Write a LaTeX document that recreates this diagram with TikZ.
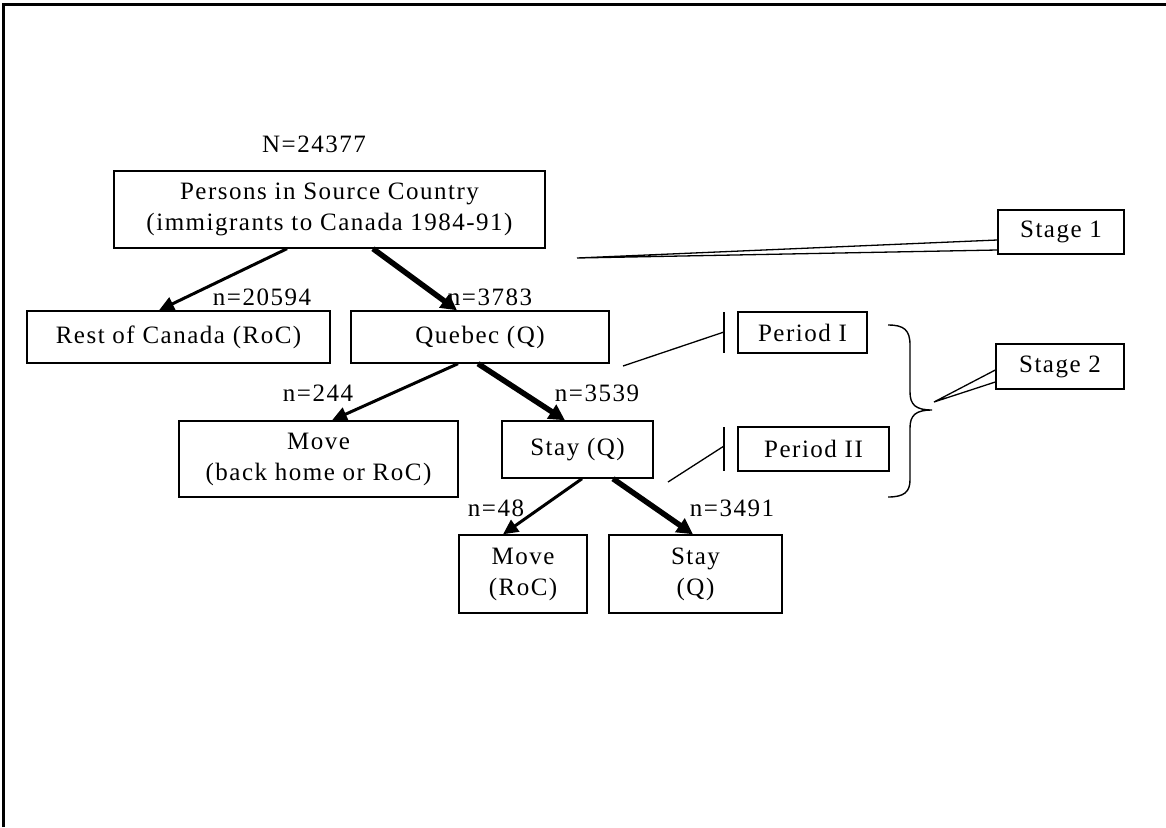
\documentclass[tikz,border=0pt]{standalone}
\usepackage{fontspec}
\setmainfont{Liberation Serif}[LetterSpace=6]
\usetikzlibrary{arrows.meta,calc}
\begin{document}
\begin{tikzpicture}[x=1pt,y=-1pt,
  box/.style={draw, line width=1.4pt, inner sep=0pt, align=center, font=\fontsize{25}{31}\selectfont},
  lbl/.style={inner sep=0pt, font=\fontsize{25}{31}\selectfont},
  thinarr/.style={line width=3pt, -{Triangle[length=15pt,width=14pt]}},
  thickarr/.style={line width=5.5pt, -{Triangle[length=16pt,width=16pt]}},
  callout/.style={line width=1.3pt, line join=miter},
  frameline/.style={line width=3pt}
]
\useasboundingbox (0,0) rectangle (1166,827);
\draw[frameline] (3,827) -- (3,4) -- (1166,4);

% tree boxes
\node[box, minimum width=431pt, minimum height=77pt] (top) at (329.5,209.5) {Persons in Source Country\\(immigrants to Canada 1984-91)};
\node[box, minimum width=303pt, minimum height=52pt] (roc) at (178.5,337) {Rest of Canada (RoC)};
\node[box, minimum width=258pt, minimum height=52pt] (que) at (480,337) {Quebec (Q)};
\node[box, minimum width=279pt, minimum height=76pt] (move1) at (318.5,459) {Move\\(back home or RoC)};
\node[box, minimum width=151pt, minimum height=57pt] (stay1) at (577.5,449.5) {Stay (Q)};
\node[box, minimum width=128pt, minimum height=78pt] (move2) at (523,574) {Move\\(RoC)};
\node[box, minimum width=173pt, minimum height=78pt] (stay2) at (695.5,574) {Stay\\(Q)};

% side boxes
\node[box, minimum width=129pt, minimum height=41pt] (per1) at (802.5,332.5) {Period I};
\node[box, minimum width=151pt, minimum height=44pt] (per2) at (813.5,449) {Period II};
\node[box, minimum width=126pt, minimum height=44pt] (st1) at (1061,232) {Stage 1};
\node[box, minimum width=128pt, minimum height=45pt] (st2) at (1060,366.5) {Stage 2};

% labels
\node[lbl] (lN) at (314,144) {N=24377};
\node[lbl] (l1) at (262,297) {n=20594};
\node[lbl] (l2) at (490,297) {n=3783};
\node[lbl] (l3) at (318,393) {n=244};
\node[lbl] (l4) at (597,393) {n=3539};
\node[lbl] (l5) at (496,508) {n=48};
\node[lbl] (l6) at (732,508) {n=3491};

% arrows
\draw[thinarr] ([xshift=-42.5pt]top.south) -- ([xshift=-19.5pt]roc.north);
\draw[thickarr] ([xshift=43.5pt]top.south) -- ([xshift=-23pt]que.north);
\draw[thinarr] ([xshift=-22pt]que.south) -- ([xshift=13.5pt]move1.north);
\draw[thickarr] ([xshift=-2pt]que.south) -- ([xshift=-12.5pt]stay1.north);
\draw[thinarr] ([xshift=4.5pt]stay1.south) -- ([xshift=-20pt]move2.north);
\draw[thickarr] ([xshift=35.5pt]stay1.south) -- ([xshift=-2.5pt]stay2.north);

% callouts
\coordinate (tip1) at (577,258);
\draw[callout] ([yshift=-8pt]st1.west) -- (tip1) -- ([yshift=-18pt]st1.west);
\coordinate (tip2) at (934,402);
\draw[callout] ([yshift=-3.5pt]st2.west) -- (tip2) -- ([yshift=-15.5pt]st2.west);

\coordinate (bar1t) at (724,312);
\coordinate (bar1b) at (724,353);
\coordinate (bar1m) at (724,332);
\coordinate (end1) at (623,366);
\draw[callout] (bar1t) -- (bar1b);
\draw[callout] (end1) -- (bar1m);

\coordinate (bar2t) at (724,427);
\coordinate (bar2b) at (724,471);
\coordinate (bar2m) at (724,446);
\coordinate (end2) at (668,482);
\draw[callout] (bar2t) -- (bar2b);
\draw[callout] (end2) -- (bar2m);

% brace
\draw[line width=1.4pt] (888,325) .. controls (904,325) and (910,330) .. (910,345)
  -- (910,392) .. controls (910,405) and (916,410) .. (932,410)
  .. controls (916,410) and (910,415) .. (910,428)
  -- (910,480) .. controls (910,492) and (904,497) .. (888,497);
\end{tikzpicture}
\end{document}
